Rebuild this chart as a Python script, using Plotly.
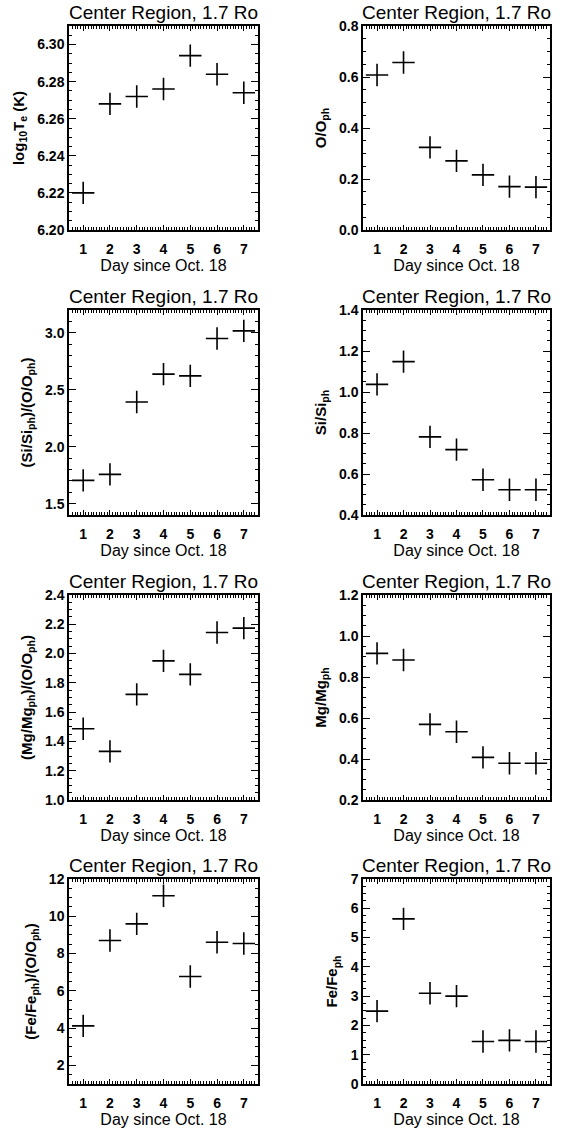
import plotly.graph_objects as go

days = [1, 2, 3, 4, 5, 6, 7]

log_te = [6.220, 6.268, 6.272, 6.276, 6.294, 6.284, 6.274]
o_oph = [0.608, 0.657, 0.324, 0.271, 0.216, 0.170, 0.168]
si_over_o = [1.704, 1.757, 2.392, 2.637, 2.622, 2.950, 3.017]
si_siph = [1.037, 1.148, 0.781, 0.719, 0.572, 0.523, 0.523]
mg_over_o = [1.487, 1.332, 1.721, 1.950, 1.858, 2.144, 2.174]
mg_mgph = [0.915, 0.883, 0.569, 0.533, 0.408, 0.379, 0.379]
fe_over_o = [4.12, 8.70, 9.59, 11.10, 6.77, 8.61, 8.54]
fe_feph = [2.49, 5.64, 3.10, 3.00, 1.45, 1.49, 1.45]

title_text = "Center Region, 1.7 Ro"
x_title = "Day since Oct. 18"

panels = [
    dict(y=log_te, title="log<sub>10</sub>T<sub>e</sub> (K)", rng=[6.20, 6.31], dtick=0.02, minor=0.005, fmt=".2f"),
    dict(y=o_oph, title="O/O<sub>ph</sub>", rng=[0.0, 0.8], dtick=0.2, minor=0.05, fmt=".1f"),
    dict(y=si_over_o, title="(Si/Si<sub>ph</sub>)/(O/O<sub>ph</sub>)", rng=[1.4, 3.2], dtick=0.5, minor=0.1, fmt=".1f"),
    dict(y=si_siph, title="Si/Si<sub>ph</sub>", rng=[0.4, 1.4], dtick=0.2, minor=0.05, fmt=".1f"),
    dict(y=mg_over_o, title="(Mg/Mg<sub>ph</sub>)/(O/O<sub>ph</sub>)", rng=[1.0, 2.4], dtick=0.2, minor=0.05, fmt=".1f"),
    dict(y=mg_mgph, title="Mg/Mg<sub>ph</sub>", rng=[0.2, 1.2], dtick=0.2, minor=0.05, fmt=".1f"),
    dict(y=fe_over_o, title="(Fe/Fe<sub>ph</sub>)/(O/O<sub>ph</sub>)", rng=[1, 12], dtick=2, minor=0.5, fmt="d"),
    dict(y=fe_feph, title="Fe/Fe<sub>ph</sub>", rng=[0, 7], dtick=1, minor=0.25, fmt="d"),
]

W, H = 566, 1128
col_x = [(69, 258), (363, 550)]
row_y = [(26, 230), (310, 515), (595, 800), (879, 1084)]

FONT = "Liberation Sans, Arial, sans-serif"

fig = go.Figure()
annotations = []
for i, p in enumerate(panels):
    r, c = divmod(i, 2)
    x0, x1 = col_x[c]
    y0, y1 = row_y[r]
    xd = [x0 / W, x1 / W]
    yd = [1 - y1 / H, 1 - y0 / H]
    n = i + 1
    xa = "x" if n == 1 else f"x{n}"
    ya = "y" if n == 1 else f"y{n}"
    fig.add_trace(go.Scatter(
        x=days, y=p["y"], mode="markers",
        marker=dict(symbol="cross-thin", size=16, color="black",
                    line=dict(color="black", width=1.6)),
        xaxis=xa, yaxis=ya, showlegend=False, hoverinfo="x+y"))
    common = dict(showline=True, linecolor="black", linewidth=1.5, mirror="ticks",
                  ticks="inside", tickcolor="black", tickwidth=1, showgrid=False,
                  zeroline=False, automargin=False,
                  tickfont=dict(family=FONT, size=14, color="black", weight="bold"))
    fig.layout[("xaxis" if n == 1 else f"xaxis{n}")] = dict(
        domain=xd, anchor=ya, range=[0.47, 7.53], tickmode="linear", tick0=1, dtick=1,
        ticklen=5, ticklabelstandoff=5,
        minor=dict(dtick=0.1, tick0=0, ticklen=3, ticks="inside", tickcolor="black", tickwidth=1),
        title=dict(text=x_title, standoff=3,
                   font=dict(family=FONT, size=16, color="black")),
        **common)
    fig.layout[("yaxis" if n == 1 else f"yaxis{n}")] = dict(
        domain=yd, anchor=xa, range=p["rng"], tickmode="linear", tick0=0,
        dtick=p["dtick"], tickformat=p["fmt"], ticklen=7,
        minor=dict(dtick=p["minor"], tick0=0, ticklen=3, ticks="inside",
                   tickcolor="black", tickwidth=1),
        title=dict(text=p["title"], standoff=9,
                   font=dict(family=FONT, size=15, color="black", weight="bold")),
        **common)
    annotations.append(dict(
        text=title_text, x=(xd[0] + xd[1]) / 2, y=yd[1], xref="paper", yref="paper",
        xanchor="center", yanchor="bottom", yshift=1, showarrow=False,
        font=dict(family=FONT, size=19, color="black")))

fig.update_layout(template="none", width=W, height=H,
                  margin=dict(l=0, r=0, t=0, b=0, pad=0, autoexpand=False),
                  paper_bgcolor="white", plot_bgcolor="white",
                  font=dict(family=FONT, color="black"),
                  annotations=annotations)
fig.write_html("out.html", config={"displayModeBar": False},
               post_script="document.body.style.margin='0';")
